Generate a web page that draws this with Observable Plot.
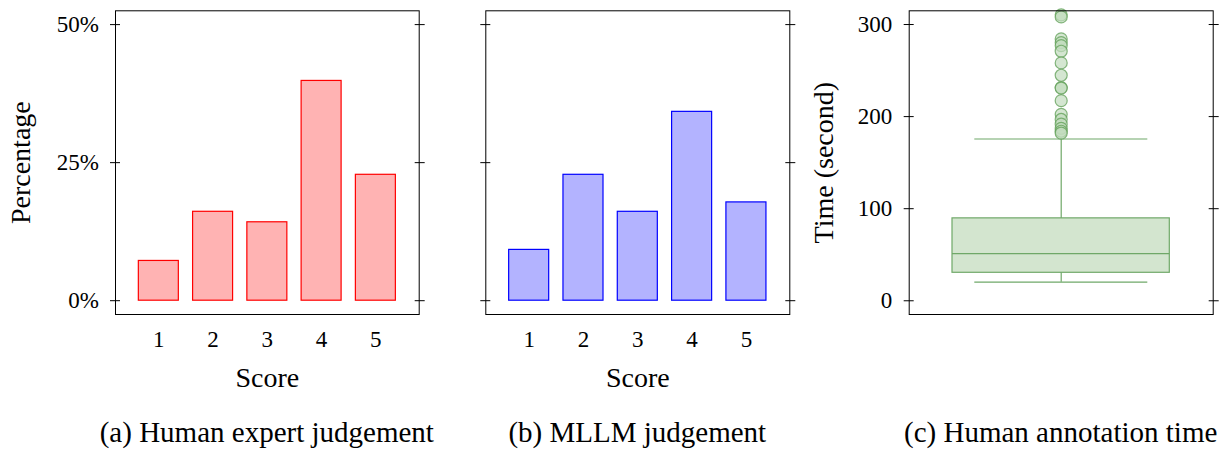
<!DOCTYPE html>
<html><head><meta charset="utf-8">
<script src="https://cdn.jsdelivr.net/npm/d3@7"></script>
<script src="https://cdn.jsdelivr.net/npm/@observablehq/plot@0.6"></script>
<style>
body{margin:0;background:#fff;}
#wrap{position:relative;width:1221px;height:451px;overflow:hidden;background:#fff;font-family:"Liberation Serif","Times New Roman",serif;}
.panel{position:absolute;top:0;}
.cap{position:absolute;top:417.7px;font-size:29px;line-height:29px;white-space:nowrap;transform:translateX(-50%);color:#000;}
</style></head><body><div id="wrap"></div>
<script>
// ---- data ----
const scores = [1, 2, 3, 4, 5];
const humanPct = [7.2, 16.1, 14.2, 39.8, 22.8];
const mllmPct = [9.2, 22.8, 16.1, 34.2, 17.8];
const pctTicks = [0, 25, 50];
const timeTicks = [0, 100, 200, 300];
const timeWhiskers = [20.2, 175.7];          // lower, upper
const timeQuartiles = [30.4, 51.1, 89.5];    // q1, median, q3
const timeOutliers = [310.5, 308.3, 284.4, 280.4, 277.1, 271, 258.3, 244.9, 231.5, 231, 217.3, 202.5, 196.9, 191.8, 187.3, 184.1, 182];
const captions = ["(a) Human expert judgement", "(b) MLLM judgement", "(c) Human annotation time"];

const FONT = "'Liberation Serif', 'Times New Roman', serif";
const style = {fontFamily: FONT, fontSize: "23px", background: "transparent", overflow: "visible", color: "#000"};

function barPanel(vals, fill, stroke, withLabels, width, ml, mr) {
  const data = scores.map((s, i) => ({score: s, pct: vals[i]}));
  const marks = [
    Plot.barY(data, {x: "score", y: "pct", fill, stroke, strokeWidth: 1.2}),
    Plot.frame({stroke: "#000", strokeWidth: 1}),
    Plot.axisX({anchor: "bottom", tickSize: 0, tickPadding: 16, fontSize: 23, label: null}),
    Plot.text(["Score"], {frameAnchor: "bottom", dy: 72, lineAnchor: "bottom", textAnchor: "middle", fontSize: 28}),
    Plot.axisY(pctTicks, {anchor: "left", tickSize: 10, insetLeft: 5, fill: "none", label: null, stroke: "#000"}),
    Plot.axisY(pctTicks, {anchor: "right", tickSize: 10, insetRight: 5, fill: "none", label: null, stroke: "#000"})
  ];
  if (withLabels) {
    marks.push(
      Plot.axisY(pctTicks, {anchor: "left", tickSize: 0, tickPadding: 16.7, tickFormat: d => d + "%", fontSize: 23, label: null}),
      Plot.text(["Percentage"], {frameAnchor: "left", rotate: -90, dx: -105.6, lineAnchor: "top", textAnchor: "middle", fontSize: 28})
    );
  }
  return Plot.plot({
    width, height: 400,
    marginLeft: ml, marginRight: mr, marginTop: 10.3, marginBottom: 86,
    x: {type: "band", domain: scores, paddingInner: 0.263, paddingOuter: 0.43, round: false},
    y: {domain: [-2.5, 52.5]},
    style, marks
  });
}

function boxPanel() {
  const G = "#6fa868", F = "#d3e5cf";
  return Plot.plot({
    width: 421, height: 400,
    marginLeft: 108.7, marginRight: 8.3, marginTop: 10.3, marginBottom: 86,
    y: {domain: [-14.9, 314.9]},
    style,
    marks: [
      Plot.ruleX([timeWhiskers], {x: null, y1: d => d[0], y2: d => d[1], stroke: G, strokeWidth: 1.2}),
      Plot.rect([timeQuartiles], {y1: d => d[0], y2: d => d[2], insetLeft: 43.3, insetRight: 43.4, fill: F, stroke: G, strokeWidth: 1.2}),
      Plot.tickY([timeQuartiles[1]], {insetLeft: 43.3, insetRight: 43.4, stroke: G, strokeWidth: 1.2}),
      Plot.tickY(timeWhiskers, {insetLeft: 65.6, insetRight: 65.4, stroke: G, strokeWidth: 1.2}),
      Plot.dotY(timeOutliers, {r: 6, fill: "#c2dbbd", fillOpacity: 0.7, stroke: "#5f9f56", strokeOpacity: 0.75, strokeWidth: 1.2}),
      Plot.frame({stroke: "#000", strokeWidth: 1}),
      Plot.axisY(timeTicks, {anchor: "left", tickSize: 10, insetLeft: 5, fill: "none", label: null, stroke: "#000"}),
      Plot.axisY(timeTicks, {anchor: "right", tickSize: 10, insetRight: 5, fill: "none", label: null, stroke: "#000"}),
      Plot.axisY(timeTicks, {anchor: "left", tickSize: 0, tickPadding: 17, fontSize: 23, label: null}),
      Plot.text(["Time (second)"], {frameAnchor: "left", rotate: -90, dx: -96.3, lineAnchor: "top", textAnchor: "middle", fontSize: 28})
    ]
  });
}

const wrap = document.getElementById("wrap");
const panels = [
  {left: 0, el: barPanel(humanPct, "#ffb3b3", "#ff0000", true, 440, 115, 21.3), cx: 266.8},
  {left: 440, el: barPanel(mllmPct, "#b3b3ff", "#0000ff", false, 360, 45.3, 10.7), cx: 637.3},
  {left: 800, el: boxPanel(), cx: 1060.7}
];
panels.forEach((p, i) => {
  const d = document.createElement("div");
  d.className = "panel";
  d.style.left = p.left + "px";
  d.appendChild(p.el);
  wrap.appendChild(d);
  const c = document.createElement("div");
  c.className = "cap";
  c.style.left = p.cx + "px";
  c.textContent = captions[i];
  wrap.appendChild(c);
});
</script></body></html>
